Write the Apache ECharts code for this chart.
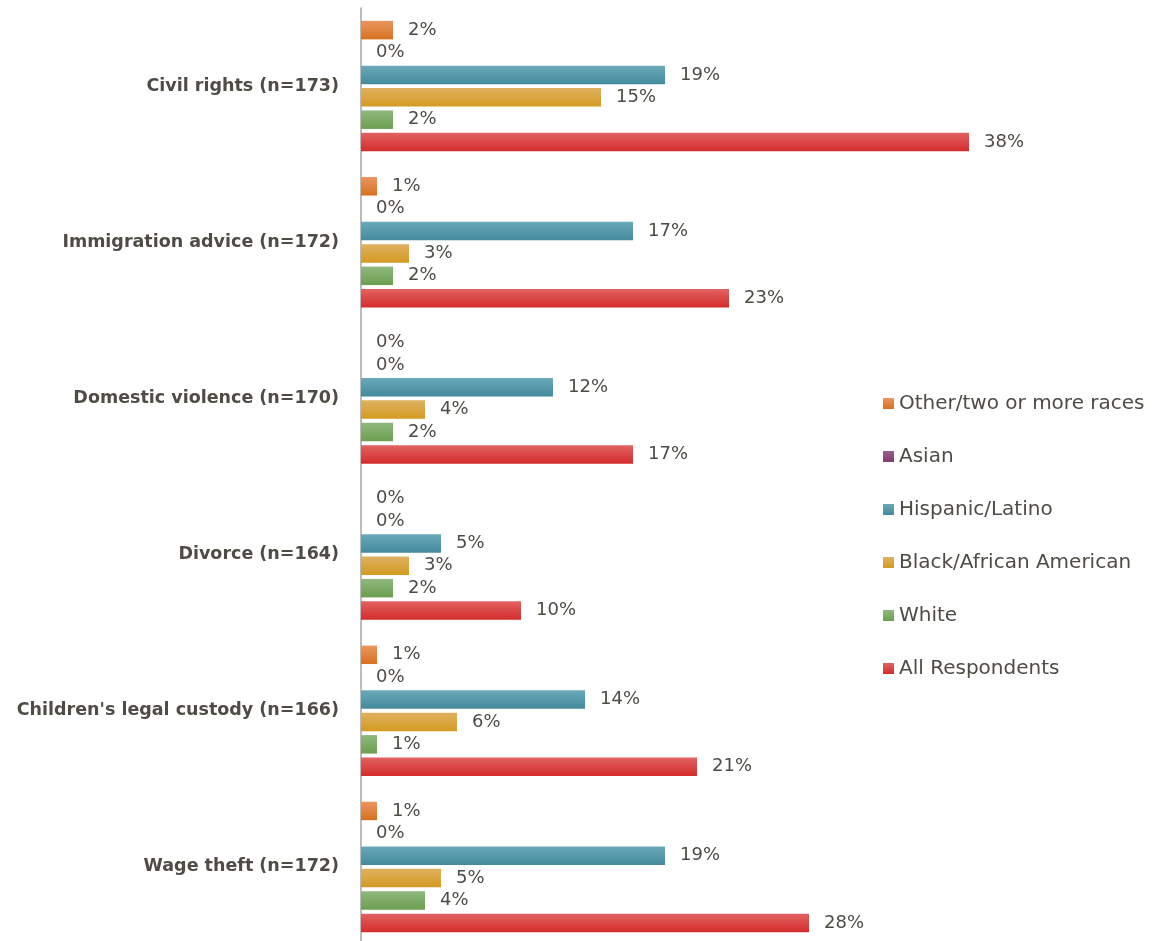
<!DOCTYPE html>
<html>
<head>
<meta charset="utf-8">
<script src="https://cdn.jsdelivr.net/npm/echarts@6/dist/echarts.min.js"></script>
<style>html,body{margin:0;padding:0;background:#fff;overflow:hidden}#c{width:1171px;height:960px}</style>
</head>
<body>
<div id="c"></div>
<script>
const categories = ["Civil rights (n=173)", "Immigration advice (n=172)", "Domestic violence (n=170)", "Divorce (n=164)", "Children's legal custody (n=166)", "Wage theft (n=172)"];
const seriesNames = ["Other/two or more races", "Asian", "Hispanic/Latino", "Black/African American", "White", "All Respondents"];
const otherVals = [2, 1, 0, 0, 1, 1];
const asianVals = [0, 0, 0, 0, 0, 0];
const hispanicVals = [19, 17, 12, 5, 14, 19];
const blackVals = [15, 3, 4, 3, 6, 5];
const whiteVals = [2, 2, 2, 2, 1, 4];
const allVals = [38, 23, 17, 10, 21, 28];

const values = [otherVals, asianVals, hispanicVals, blackVals, whiteVals, allVals];
const colorPairs = [
  ["#EA9660", "#D8701F"],
  ["#9A5C8A", "#7E3E6E"],
  ["#6AA9B9", "#438A9C"],
  ["#DEB160", "#D49A22"],
  ["#90B87E", "#6C9E50"],
  ["#E26262", "#D42C2C"]
];
const textColor = "#4F4B45";
const font = "'DejaVu Sans', sans-serif";

const series = seriesNames.map((n, i) => ({
  name: n,
  type: 'bar',
  data: values[i],
  barWidth: 18.5,
  barGap: '21%',
  itemStyle: {
    color: {type: 'linear', x: 0, y: 0, x2: 0, y2: 1,
      colorStops: [{offset: 0, color: colorPairs[i][0]}, {offset: 1, color: colorPairs[i][1]}]}
  },
  label: {
    show: true, position: 'right', distance: 15,
    formatter: p => p.value + '%',
    color: textColor, fontSize: 18, fontFamily: font, padding: [3, 0, 0, 0]
  }
}));

const chart = echarts.init(document.getElementById('c'));
chart.setOption({
  animation: false,
  backgroundColor: '#fff',
  grid: {left: 361, top: 8, width: 640, height: 937, containLabel: false},
  xAxis: {type: 'value', min: 0, max: 40, show: false},
  yAxis: {
    type: 'category', data: categories, inverse: true,
    axisLine: {show: true, lineStyle: {color: '#A6A6A6', width: 1.5}},
    axisTick: {show: false},
    axisLabel: {margin: 22, color: textColor, fontSize: 17.5, fontWeight: 'bold', fontFamily: font, padding: [4, 0, 0, 0]}
  },
  legend: {
    orient: 'vertical', left: 878, top: 388.5,
    itemWidth: 11, itemHeight: 11, itemGap: 33, icon: 'rect',
    textStyle: {color: textColor, fontSize: 20, lineHeight: 20, fontFamily: font, padding: [0,0,0,0]},
    data: seriesNames
  },
  series: series
});
</script>
</body>
</html>
